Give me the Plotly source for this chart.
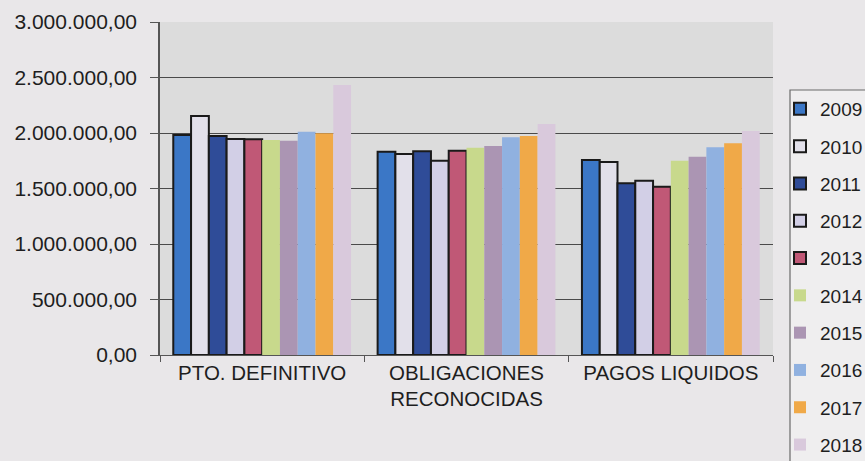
import plotly.graph_objects as go

# Budget execution figures (euros) by concept and year
categories = ["PTO. DEFINITIVO", "OBLIGACIONES<br>RECONOCIDAS", "PAGOS LIQUIDOS"]
years = ["2009", "2010", "2011", "2012", "2013", "2014", "2015", "2016", "2017", "2018"]

values_2009 = [1982000, 1832000, 1757000]
values_2010 = [2153000, 1811000, 1739000]
values_2011 = [1973000, 1835000, 1547000]
values_2012 = [1946000, 1751000, 1570000]
values_2013 = [1943000, 1841000, 1516000]
values_2014 = [1937000, 1868000, 1751000]
values_2015 = [1931000, 1883000, 1787000]
values_2016 = [2012000, 1961000, 1871000]
values_2017 = [1997000, 1973000, 1907000]
values_2018 = [2432000, 2081000, 2018000]

series = [values_2009, values_2010, values_2011, values_2012, values_2013,
          values_2014, values_2015, values_2016, values_2017, values_2018]

colors = ["#3b77c6", "#e2e0ea", "#2f4c98", "#d2cfe6", "#c05876",
          "#c8d98c", "#ab95b3", "#90b1e0", "#f0a948", "#d9c9dc"]
outlined = [True, True, True, True, True, False, False, False, False, False]

FONT = "Liberation Sans, Arial, sans-serif"

fig = go.Figure()
for year, vals, col, edge in zip(years, series, colors, outlined):
    fig.add_trace(go.Bar(
        name=year,
        x=categories,
        y=vals,
        legendgroup=year,
        marker=dict(
            color=col,
            line=dict(color="#1a1a1a" if edge else col, width=2 if edge else 0),
        ),
    ))

# Legend frame running off the lower edge of the canvas
fig.add_shape(type="rect", xref="paper", yref="paper",
              x0=(790 - 160) / 613, x1=(880 - 160) / 613,
              y0=(355 - 480) / 333, y1=(355 - 90) / 333,
              line=dict(color="#6a6a6a", width=1.2), fillcolor="#efeeef",
              layer="below")

fig.update_layout(
    width=865, height=461,
    margin=dict(l=160, r=92, t=22, b=106, autoexpand=False),
    paper_bgcolor="#e9e7e9",
    plot_bgcolor="#dcdcdc",
    barmode="group",
    bargap=0.13,
    bargroupgap=0,
    separators=",.",
    font=dict(family=FONT, size=19, color="#1e1e1e"),
    showlegend=True,
    legend=dict(
        x=(780 - 160) / 613, xanchor="left",
        y=(355 - 90) / 333, yanchor="top",
        bgcolor="rgba(0,0,0,0)",
        borderwidth=0,
        tracegroupgap=9.6,
        maxheight=800,
        font=dict(family=FONT, size=19, color="#1e1e1e"),
    ),
    xaxis=dict(
        showgrid=False,
        showline=True, linecolor="#555555", linewidth=1.2,
        ticks="outside", tickson="boundaries", ticklen=6, tickcolor="#555555",
        ticklabelstandoff=-1,
        tickfont=dict(family=FONT, size=20.5, color="#1e1e1e"),
    ),
    yaxis=dict(
        range=[0, 3000000],
        tickvals=[0, 500000, 1000000, 1500000, 2000000, 2500000, 3000000],
        tickformat=",.2f",
        showgrid=True, gridcolor="#4a4a4a", gridwidth=1.2,
        showline=True, linecolor="#555555", linewidth=1.5,
        ticks="outside", ticklen=8, tickcolor="#555555",
        ticklabelstandoff=9,
        tickfont=dict(family=FONT, size=21, color="#1e1e1e"),
        zeroline=False,
    ),
)

fig.write_html("out.html")
